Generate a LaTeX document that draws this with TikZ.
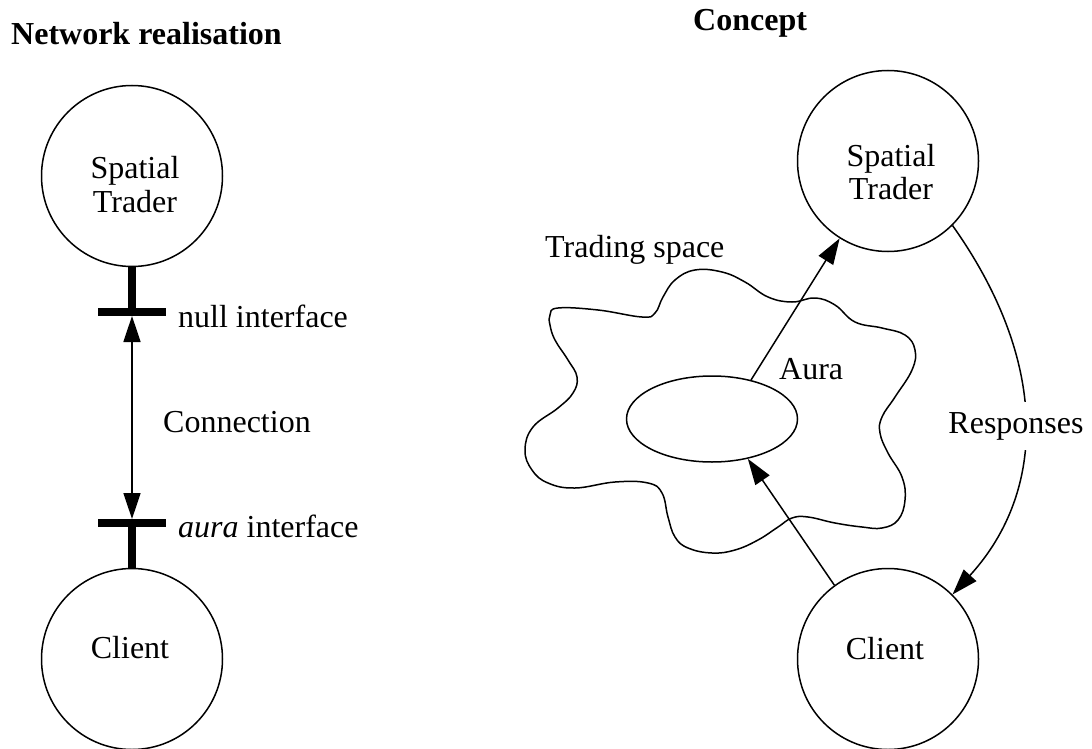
\documentclass[tikz,border=0pt]{standalone}
\usepackage{fontspec}
\setmainfont{Liberation Serif}
\usetikzlibrary{arrows.meta,shapes.geometric}
\begin{document}
\begin{tikzpicture}[x=1pt,y=1pt,
  every node/.style={font=\fontsize{32}{38}\selectfont, inner sep=0pt},
  ring/.style={draw, circle, minimum size=181pt, line width=1.5pt},
  lbl/.style={anchor=base west},
  title/.style={anchor=base west, font=\fontsize{32}{38}\selectfont\bfseries},
  arr/.style={line width=1.5pt, -{Triangle[length=26pt,width=17pt]}},
  ibar/.style={line width=8pt}]
\path[use as bounding box] (0,0) rectangle (1092,-749);

% titles
\node[title] (t1) at (11,-45) {Network realisation};
\node[title] (t2) at (693,-31) {Concept};

% ---- left: network realisation
\node[ring] (st1) at (132,-176) {};
\node[anchor=base] (st1a) at (135,-178) {Spatial};
\node[anchor=base] (st1b) at (135,-212) {Trader};
\node[ring] (cl1) at (132,-659) {};
\node[anchor=base] (cl1t) at (130,-658) {Client};
\coordinate (ni) at (132,-312);
\coordinate (ai) at (132,-523);
\draw[ibar] (st1.south) -- (ni);
\draw[ibar] ([xshift=-34pt]ni) -- ([xshift=34pt]ni);
\draw[ibar] (cl1.north) -- (ai);
\draw[ibar] ([xshift=-34pt]ai) -- ([xshift=34pt]ai);
\draw[line width=1.5pt, {Triangle[length=26pt,width=17pt]}-{Triangle[length=26pt,width=17pt]}]
  ([yshift=-4pt]ni) -- ([yshift=4pt]ai);
\node[lbl] (nil) at (178,-327) {null interface};
\node[lbl] (con) at (163,-432) {Connection};
\node[lbl] (aul) at (178,-537) {\textit{aura} interface};

% ---- right: concept
\node[ring] (st2) at (888,-161) {};
\node[anchor=base] (st2a) at (891,-167) {Spatial};
\node[anchor=base] (st2b) at (891,-199) {Trader};
\node[ring] (cl2) at (888,-659) {};
\node[anchor=base] (cl2t) at (885,-659) {Client};

% trading space cloud
\draw[line width=1.5pt] plot[smooth cycle, tension=0.7] coordinates {
 (550,-315) (558,-308) (598,-310) (642,-317) (655,-313) (663,-297)
 (675,-280) (695,-270) (722,-272) (745,-282) (768,-297) (792,-302)
 (815,-298) (835,-305) (855,-322) (882,-328) (905,-335) (915,-350)
 (912,-370) (895,-397) (882,-417) (880,-433) (888,-453) (902,-477)
 (905,-500) (898,-520) (882,-528) (862,-527) (835,-523) (808,-517)
 (792,-518) (778,-527) (758,-540) (735,-550) (712,-553) (688,-548)
 (675,-537) (668,-517) (662,-493) (648,-483) (615,-482) (575,-488)
 (548,-483) (532,-470) (525,-450) (533,-427) (558,-408) (573,-393)
 (577,-377) (568,-360) (555,-340) (550,-325)};

\node[draw, ellipse, minimum width=171pt, minimum height=86pt, line width=1.5pt] (aura) at (712,-419) {};
\node[lbl] (aural) at (779,-379) {Aura};
\node[lbl] (tsl) at (545,-257) {Trading space};

\draw[arr] (aura.45) -- (st2.238);
\draw[arr] (cl2.126) -- (aura.-48);
\draw[arr] (st2.-45) .. controls (1048,-360) and (1048,-490) .. (cl2.45);
\node[anchor=base, fill=white, inner xsep=1pt, inner ysep=10pt] (resp) at (1016,-433) {Responses};
\end{tikzpicture}
\end{document}
